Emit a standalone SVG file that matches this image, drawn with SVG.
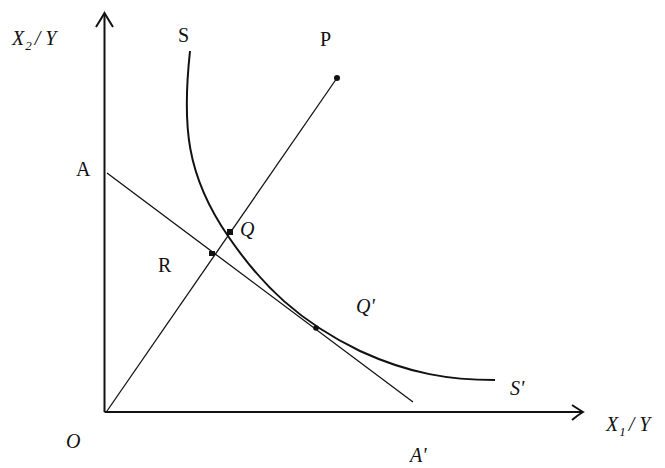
<svg xmlns="http://www.w3.org/2000/svg" width="665" height="468" viewBox="0 0 665 468">
<style>
.ax{stroke:#111;stroke-width:2;fill:none}
.ln{stroke:#111;stroke-width:1.3;fill:none}
.cv{stroke:#111;stroke-width:2;fill:none}
.t{font-family:"Liberation Serif","Times New Roman",serif;font-size:20px;fill:#111}
.i{font-style:italic}
.s{font-size:13px}
.dot{fill:#111}
</style>
<rect width="665" height="468" fill="#fff"/>
<g id="connectors">
<path class="ax" d="M104.5,412 V14"/>
<path class="ax" d="M104.5,412 H583"/>
<path class="ax" d="M96,27 Q101,19 104.5,13 Q108,19 113,27"/>
<path class="ax" d="M572,405 Q578,409 583,412 Q578,415 572,420"/>
<path id="OP" class="ln" d="M107,411 L337,78"/>
<path id="AA" class="ln" d="M107,173 L413,402"/>
<path id="SS" class="cv" d="M190,51 C182,125 186,175 228,236 C262,286 300,322 360,351 C410,374 450,380 495,380"/>
</g>
<g id="P"><circle class="dot" cx="337" cy="78" r="3"/><text class="t" x="320" y="46">P</text></g>
<g id="S"><text class="t" x="178" y="42">S</text></g>
<g id="Sp"><text class="t i" x="510" y="395">S'</text></g>
<g id="A"><text class="t" x="76" y="176">A</text></g>
<g id="Ap"><text class="t i" x="410" y="462">A'</text></g>
<g id="Q"><rect class="dot" x="227" y="229" width="6" height="6"/><text class="t i" x="240" y="236">Q</text></g>
<g id="R"><rect class="dot" x="209" y="251" width="6" height="5"/><text class="t" x="158" y="272">R</text></g>
<g id="Qp"><circle class="dot" cx="316" cy="328" r="2.8"/><text class="t i" x="356" y="313">Q'</text></g>
<g id="O"><text class="t i" x="66" y="448">O</text></g>
<g id="ylabel"><text class="t i" x="12" y="45">X<tspan class="s" dy="5" dx="1">2</tspan><tspan dy="-5" dx="3">/ Y</tspan></text></g>
<g id="xlabel"><text class="t i" x="606" y="431">X<tspan class="s" dy="5" dx="1">1</tspan><tspan dy="-5" dx="3">/ Y</tspan></text></g>
</svg>
